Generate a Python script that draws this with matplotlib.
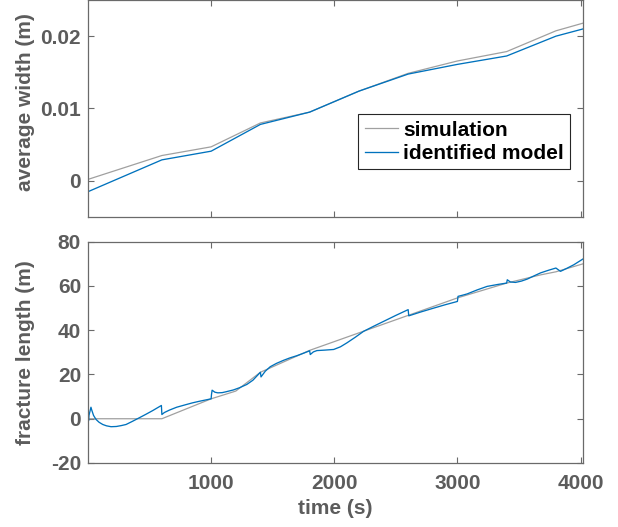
import matplotlib
matplotlib.use("Agg")
import matplotlib.pyplot as plt

# ---- data ----
# average width, simulation
w_sim_t = [0, 600, 1000, 1400, 1800, 2200, 2600, 3000, 3400, 3800, 4020]
w_sim_v = [0.0002, 0.0035, 0.0047, 0.0080, 0.0095, 0.0124, 0.01486, 0.01657, 0.01787, 0.02074, 0.0218]
# average width, identified model
w_mod_t = [0, 600, 1000, 1400, 1800, 2200, 2600, 3000, 3400, 3800, 4020]
w_mod_v = [-0.0015, 0.0029, 0.0041, 0.0078, 0.0095, 0.0124, 0.01476, 0.0161, 0.01726, 0.0200, 0.0210]

# fracture length, simulation
l_sim_t = [0, 600, 1000, 1200, 1400, 1800, 2200, 2600, 3000, 3400, 3675, 3800, 4020]
l_sim_v = [0, 0, 9.0, 12.5, 21.0, 30.9, 38.8, 46.7, 54.6, 61.3, 65.0, 66.4, 70.0]
# fracture length, identified model
l_mod_t = [0, 2, 4, 8, 24, 30, 45, 65, 90, 120, 150, 187, 230, 270, 309, 360, 417, 470, 526, 596,
           600, 620, 661, 720, 797, 850, 905, 1000,
           1003, 1008, 1030, 1054, 1090, 1122, 1180, 1230, 1290, 1339, 1400,
           1405, 1440, 1480, 1530, 1588, 1640, 1697, 1750, 1800,
           1805, 1830, 1859, 1920, 1995, 2050, 2103, 2170, 2238, 2320, 2401, 2500, 2600,
           2605, 2700, 2808, 2900, 3000,
           3005, 3040, 3079, 3160, 3241, 3330, 3400,
           3405, 3430, 3472, 3520, 3567, 3620, 3675, 3740, 3800,
           3837, 3890, 3946, 4020]
l_mod_v = [-3.3, 3.4, -1.0, 1.5, 5.2, 4.0, 1.5, -0.3, -1.6, -2.6, -3.2, -3.6, -3.5, -3.1, -2.6, -1.2, 0.45, 2.0, 3.7, 6.0,
           1.9, 2.8, 3.9, 5.2, 6.4, 7.2, 7.9, 9.0,
           11.0, 12.9, 12.0, 11.7, 11.8, 12.2, 13.0, 14.0, 15.5, 17.4, 21.0,
           18.9, 21.5, 23.5, 25.0, 26.4, 27.5, 28.5, 29.6, 30.7,
           29.0, 30.2, 30.8, 31.0, 31.3, 32.5, 34.3, 36.8, 39.5, 41.8, 44.0, 46.7, 49.3,
           46.5, 48.2, 50.0, 51.5, 53.0,
           55.3, 55.8, 56.4, 58.2, 59.8, 60.7, 61.3,
           62.8, 61.8, 61.6, 62.2, 63.1, 64.5, 65.9, 67.1, 68.1,
           66.6, 68.0, 69.6, 72.2]

x_ticks = [1000, 2000, 3000, 4000]
w_ticks = [0, 0.01, 0.02]
w_tick_labels = ["0", "0.01", "0.02"]
l_ticks = [-20, 0, 20, 40, 60, 80]

# ---- style ----
plt.rcParams['font.family'] = ['Liberation Sans', 'DejaVu Sans']
plt.rcParams['font.weight'] = 'bold'
TXT = '#5c5c5c'
SPN = '#6a6a6a'
SIM_C = '#a0a0a0'
MOD_C = '#0072BD'
FS = 15

fig = plt.figure(figsize=(6.18, 5.27), dpi=100)
W, H = 618, 527
ax1 = fig.add_axes([88 / W, 1 - 217 / H, 495 / W, 217 / H])
ax2 = fig.add_axes([88 / W, 1 - 463 / H, 495 / W, 221.3 / H])

ax1.plot(w_sim_t, w_sim_v, color=SIM_C, lw=0.9, label='simulation')
ax1.plot(w_mod_t, w_mod_v, color=MOD_C, lw=0.95, label='identified model')
ax2.plot(l_sim_t, l_sim_v, color=SIM_C, lw=0.9)
ax2.plot(l_mod_t, l_mod_v, color=MOD_C, lw=0.95)

for ax in (ax1, ax2):
    ax.set_xlim(0, 4020)
    ax.set_xticks(x_ticks)
    ax.tick_params(direction='in', length=4, width=0.8, colors=SPN, labelcolor=TXT,
                   labelsize=FS, top=True, right=True)
    for s in ax.spines.values():
        s.set_color(SPN)
        s.set_linewidth(0.9)

ax1.set_ylim(-0.005, 0.025)
ax1.set_yticks(w_ticks)
ax1.set_yticklabels(w_tick_labels, fontweight='bold')
ax1.tick_params(axis='x', labelbottom=False)
ax1.tick_params(axis='y', pad=5)
ax1.set_ylabel('average width (m)', fontsize=FS, fontweight='bold', color=TXT)
ax1.yaxis.set_label_coords(-0.107, 0.53)

ax2.set_ylim(-20, 80)
ax2.set_yticks(l_ticks)
ax2.set_yticklabels([str(v) for v in l_ticks], fontweight='bold')
ax2.set_xticklabels([str(v) for v in x_ticks], fontweight='bold')
ax2.tick_params(axis='y', pad=5)
ax2.tick_params(axis='x', pad=8)
ax2.set_ylabel('fracture length (m)', fontsize=FS, fontweight='bold', color=TXT)
ax2.yaxis.set_label_coords(-0.107, 0.5)
ax2.set_xlabel('time (s)', fontsize=FS, fontweight='bold', color=TXT, labelpad=4)

leg = ax1.legend(loc='lower right', bbox_to_anchor=(0.974, 0.221),
                 prop={'weight': 'bold', 'size': FS}, frameon=True, fancybox=False,
                 framealpha=1, edgecolor='#262626', handlelength=1.6, handletextpad=0.25,
                 borderpad=0.3, labelspacing=0.2, borderaxespad=0)
leg.get_frame().set_linewidth(0.8)

fig.savefig('out.png', dpi=100)
